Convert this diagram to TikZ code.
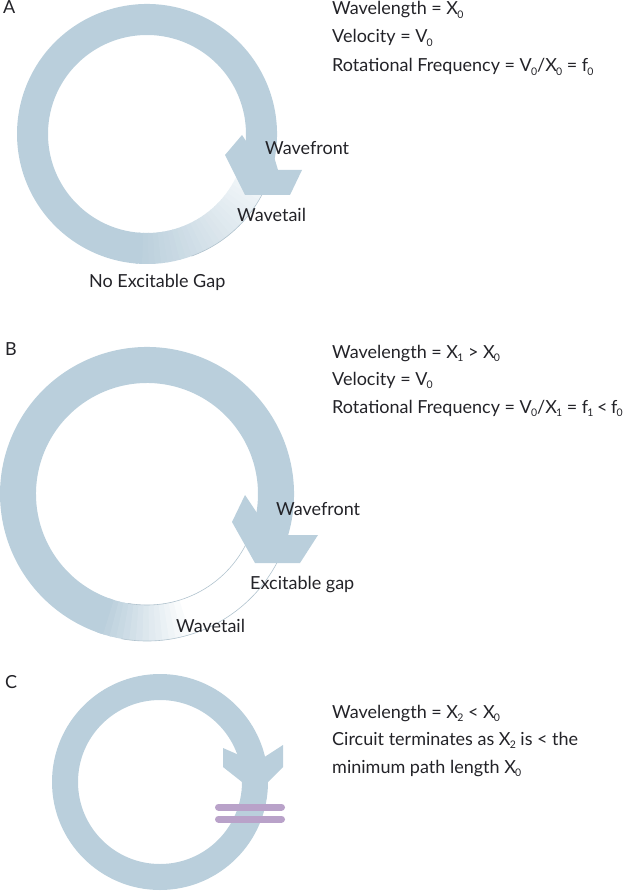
\documentclass[tikz,border=0pt]{standalone}
\usepackage{fontspec}
\setmainfont{Lato}
\usepackage{tikz}
\usetikzlibrary{calc}
\definecolor{ringblue}{RGB}{186,207,220}
\definecolor{blockpurple}{RGB}{185,162,201}
\definecolor{inkgray}{RGB}{35,35,40}
\newcommand{\lowsub}[1]{\kern-0.8pt\raisebox{-0.35ex}{\fontsize{10.5}{10.5}\selectfont #1}}
% annulus piece: centre, inner radius, outer radius, start angle, end angle
\newcommand{\ringpart}[5]{($(#1)+(#4:#3)$) arc (#4:#5:#3) -- ($(#1)+(#5:#2)$) arc (#5:#4:#2) -- cycle}

\begin{document}
\begin{tikzpicture}[x=1pt,y=1pt,
  lbl/.style={font=\fontsize{18}{22}\selectfont, text=inkgray, inner sep=0pt, anchor=base west},
  gapline/.style={draw=ringblue!85!gray, line width=0.6pt},
  blocker/.style={draw=blockpurple, line width=7pt, line cap=round}]
\useasboundingbox (0,0) rectangle (630,-893);

% ---------- A ----------
\coordinate (cA) at (147,-134);
\fill[ringblue] \ringpart{cA}{99pt}{130pt}{-22}{266};
\foreach \i in {0,...,25}{
  \pgfmathsetmacro\aa{-95+2.8*\i}
  \pgfmathsetmacro\bb{\aa+3.4}
  \pgfmathtruncatemacro\pp{100-3.3*\i}
  \fill[ringblue!\pp!white] \ringpart{cA}{99pt}{130pt}{\aa}{\bb};
}
\draw[gapline] ($(cA)+(-70:130pt)$) arc (-70:-25:130pt);
\fill[ringblue] (242,-135) -- (225,-155) -- (245,-195) -- (290,-195) -- (302,-170)
  -- (278,-170) -- (272,-150) -- (250,-147) -- cycle;
\node[lbl] (labA) at (3,-14) {A};
\node[lbl] (lenA) at (332,-15) {Wavelength = X\lowsub{0}};
\node[lbl] (velA) at (332,-43) {Velocity = V\lowsub{0}};
\node[lbl] (freqA) at (332,-72) {Rotational Frequency = V\lowsub{0}/X\lowsub{0} = f\lowsub{0}};
\node[lbl] (frontA) at (265,-155) {Wavefront};
\node[lbl] (tailA) at (237,-222) {Wavetail};
\node[lbl] (gapA) at (89,-287) {No Excitable Gap};

% ---------- B ----------
\coordinate (cB) at (147,-494);
\fill[ringblue] \ringpart{cB}{111pt}{147pt}{-22}{252};
\foreach \i in {0,...,13}{
  \pgfmathsetmacro\aa{250+2.6*\i}
  \pgfmathsetmacro\bb{\aa+3.2}
  \pgfmathtruncatemacro\pp{100-7*\i}
  \fill[ringblue!\pp!white] \ringpart{cB}{111pt}{147pt}{\aa}{\bb};
}
\draw[gapline] ($(cB)+(-100:147pt)$) arc (-100:-22:147pt);
\draw[gapline] ($(cB)+(-100:111pt)$) arc (-100:-22:111pt);
\fill[ringblue] (245,-495) -- (232,-522) -- (255,-563) -- (300,-563) -- (318,-535)
  -- (288,-535) -- (286,-510) -- (257,-513) -- cycle;
\node[lbl] (labB) at (5,-355) {B};
\node[lbl] (lenB) at (332,-358) {Wavelength = X\lowsub{1} > X\lowsub{0}};
\node[lbl] (velB) at (332,-385) {Velocity = V\lowsub{0}};
\node[lbl] (freqB) at (332,-413) {Rotational Frequency = V\lowsub{0}/X\lowsub{1} = f\lowsub{1}\kern-1pt{} <\kern-1pt{} f\lowsub{0}};
\node[lbl] (frontB) at (276,-515) {Wavefront};
\node[lbl] (gapB) at (250,-589) {Excitable gap};
\node[lbl] (tailB) at (176,-632) {Wavetail};

% ---------- C ----------
\coordinate (cC) at (160,-782);
\fill[ringblue, even odd rule] (cC) circle (108pt) (cC) circle (82pt);
\fill[ringblue] (223,-748) -- (223,-767) -- (242,-782) -- (268,-782) -- (283,-767)
  -- (283,-745) -- (263,-758) -- (239,-755) -- cycle;
\coordinate (barAl) at (218.5,-807);
\coordinate (barAr) at (281.5,-807);
\coordinate (barBl) at (218.5,-819);
\coordinate (barBr) at (281.5,-819);
\draw[blocker] (barAl) -- (barAr);
\draw[blocker] (barBl) -- (barBr);
\node[lbl] (labC) at (5,-688) {C};
\node[lbl] (lenC) at (332,-718) {Wavelength = X\lowsub{2} < X\lowsub{0}};
\node[lbl] (termC) at (332,-745) {Circuit terminates as X\lowsub{2} is < the};
\node[lbl] (pathC) at (332,-773) {minimum path length X\lowsub{0}};
\end{tikzpicture}
\end{document}
